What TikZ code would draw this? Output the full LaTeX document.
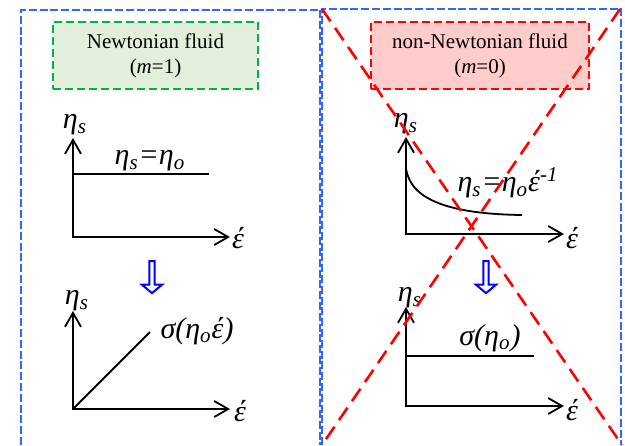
\documentclass[tikz,border=0pt]{standalone}
\usepackage{fontspec}
\setmainfont{Liberation Serif}
\usetikzlibrary{arrows.meta,positioning,shapes.arrows}

\definecolor{frameblue}{RGB}{51,102,255}
\definecolor{okgreen}{RGB}{0,176,80}
\definecolor{okfill}{RGB}{226,239,218}
\definecolor{badfill}{RGB}{255,204,204}

\newcommand{\lo}[1]{\textsubscript{\textit{#1}}}
\newcommand{\etas}{\textit{η}\lo{s}}
\newcommand{\etao}{\textit{η}\lo{o}}
\newcommand{\rate}{\textit{έ}}

\begin{document}
\begin{tikzpicture}[x=0.5pt,y=-0.5pt,line width=0.9pt,
    frame/.style={draw=frameblue,line width=1.25pt,dash pattern=on 4pt off 1.4pt},
    titlebox/.style={line width=1.2pt,dash pattern=on 4pt off 2pt,align=center,
      font=\fontsize{10.5}{12.5}\selectfont,inner sep=0pt},
    axis/.style={{Straight Barb[length=7pt,width=8pt]}-{Straight Barb[length=7pt,width=8pt]}},
    lbl/.style={font=\fontsize{15}{18}\selectfont\itshape,inner sep=0pt},
    hollowdown/.style={single arrow,draw=blue,fill=white,line width=1pt,rotate=-90,
      minimum height=16pt,minimum width=10pt,single arrow head extend=3pt,
      single arrow tip angle=100,inner sep=0.6pt},
    cross/.style={draw=red,line width=1.3pt,dash pattern=on 7.5pt off 4pt}]

  \useasboundingbox (0,0) rectangle (625,445);

  % The two dashed frames
  \draw[frame] (21,445) -- (21,10) -- (320,10) -- (320,445);
  \draw[frame] (322,445) -- (322,9) -- (621,9) -- (621,445);

  % Titles
  \node[titlebox,draw=okgreen,fill=okfill,minimum width=102.5pt,minimum height=33.5pt]
    (newt) at (155.5,55.5) {Newtonian fluid\\(\textit{m}=1)};
  \node[titlebox,draw=red,fill=badfill,minimum width=109pt,minimum height=33.5pt]
    (nonnewt) at (480,55.5) {non-Newtonian fluid\\(\textit{m}=0)};

  % Newtonian: viscosity
  \coordinate (o1) at (73,237);
  \coordinate (y1) at (73,138);
  \coordinate (x1) at (230,237);
  \draw[axis] (y1) -- (o1) -- (x1);
  \draw (73,174) -- (209,174);
  \node[lbl] (ylab1) at (75,125) {\etas};
  \node[lbl] (xlab1) at (238,238) {\rate};
  \node[lbl] (law1) at (150,161) {\etas=\etao};

  \node[hollowdown] (step1) at (152,276) {};

  % Newtonian: stress
  \coordinate (o2) at (73,409);
  \coordinate (y2) at (73,311);
  \coordinate (x2) at (230,409);
  \draw[axis] (y2) -- (o2) -- (x2);
  \draw (o2) -- (150,332);
  \node[lbl] (ylab2) at (77,301) {\etas};
  \node[lbl] (xlab2) at (240,411) {\rate};
  \node[lbl] (law2) at (197,331) {σ(\etao\rate)};

  % non-Newtonian: viscosity
  \coordinate (o3) at (406,234);
  \coordinate (y3) at (406,137);
  \coordinate (x3) at (564,234);
  \draw[axis] (y3) -- (o3) -- (x3);
  \draw (406,168) .. controls (410,200) and (450,214) .. (522,215);
  \node[lbl] (ylab3) at (406,124) {\etas};
  \node[lbl] (xlab3) at (572,238) {\rate};
  \node[lbl] (law3) at (508,183) {\etas=\etao\rate\textsuperscript{\textit{-1}}};

  \node[hollowdown] (step2) at (486,276) {};

  % non-Newtonian: stress
  \coordinate (o4) at (406,406);
  \coordinate (y4) at (406,307);
  \coordinate (x4) at (564,406);
  \draw[axis] (y4) -- (o4) -- (x4);
  \draw (406,356) -- (534,356);
  \node[lbl] (ylab4) at (410,298) {\etas};
  \node[lbl] (xlab4) at (572,410) {\rate};
  \node[lbl] (law4) at (490,338) {σ(\etao)};

  % The red cross over the right half
  \draw[cross] (322,9) -- (622,445);
  \draw[cross] (620,9) -- (322,445);

\end{tikzpicture}
\end{document}
